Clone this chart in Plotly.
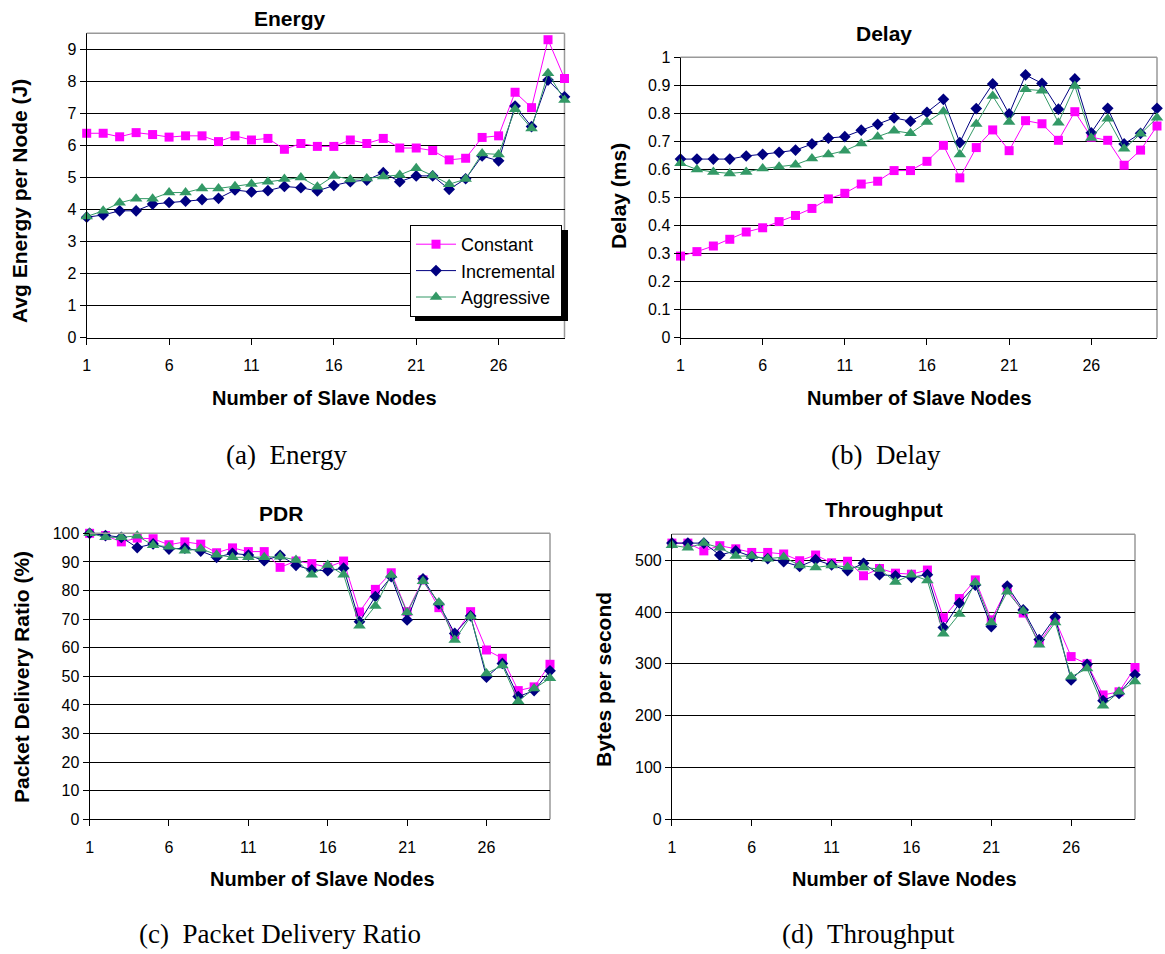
import plotly.graph_objects as go

W, H = 1165, 954

nodes = list(range(1, 31))

energy_constant = [6.38, 6.38, 6.27, 6.40, 6.34, 6.26, 6.30, 6.30, 6.12, 6.30,
                   6.17, 6.22, 5.88, 6.06, 5.97, 5.97, 6.17, 6.06, 6.22, 5.92,
                   5.92, 5.84, 5.55, 5.60, 6.25, 6.30, 7.66, 7.18, 9.30, 8.09]
energy_incremental = [3.76, 3.83, 3.96, 3.96, 4.17, 4.22, 4.26, 4.31, 4.35, 4.61,
                      4.55, 4.59, 4.72, 4.68, 4.58, 4.75, 4.87, 4.92, 5.15, 4.87,
                      5.05, 5.05, 4.63, 4.96, 5.67, 5.52, 7.23, 6.59, 8.04, 7.52]
energy_aggressive = [3.78, 3.96, 4.21, 4.34, 4.34, 4.53, 4.53, 4.66, 4.66, 4.73,
                     4.80, 4.87, 4.95, 5.00, 4.71, 5.05, 4.94, 4.97, 5.03, 5.08,
                     5.29, 5.06, 4.79, 4.95, 5.75, 5.72, 7.13, 6.53, 8.25, 7.42]

delay_constant = [0.291, 0.307, 0.327, 0.351, 0.377, 0.392, 0.414, 0.436, 0.461, 0.495,
                  0.515, 0.548, 0.558, 0.596, 0.596, 0.629, 0.686, 0.570, 0.678, 0.741,
                  0.667, 0.774, 0.763, 0.704, 0.806, 0.715, 0.704, 0.615, 0.669, 0.755]
delay_incremental = [0.637, 0.637, 0.637, 0.637, 0.648, 0.654, 0.661, 0.669, 0.691, 0.712,
                     0.717, 0.740, 0.761, 0.784, 0.772, 0.804, 0.850, 0.696, 0.817, 0.905,
                     0.798, 0.937, 0.907, 0.815, 0.923, 0.731, 0.818, 0.691, 0.729, 0.818]
delay_aggressive = [0.622, 0.600, 0.591, 0.586, 0.591, 0.603, 0.610, 0.617, 0.639, 0.653,
                    0.667, 0.693, 0.717, 0.738, 0.729, 0.769, 0.807, 0.653, 0.762, 0.862,
                    0.769, 0.886, 0.881, 0.767, 0.898, 0.712, 0.781, 0.674, 0.727, 0.784]

pdr_constant = [100, 99.2, 97.0, 98.3, 98.1, 96.0, 97.0, 96.2, 93.2, 94.9,
                93.6, 93.6, 88.1, 90.3, 89.4, 88.1, 90.3, 72.5, 80.4, 86.2,
                72.6, 83.7, 74.0, 64.5, 72.6, 59.2, 56.3, 45.0, 46.3, 54.2]
pdr_incremental = [100, 99.2, 98.6, 95.0, 96.3, 94.5, 94.8, 93.8, 91.6, 93.0,
                   92.4, 90.4, 92.3, 88.8, 87.2, 86.9, 87.8, 69.1, 77.9, 84.8,
                   69.7, 84.1, 75.3, 65.0, 71.1, 49.7, 54.5, 42.9, 45.0, 51.9]
pdr_aggressive = [100, 98.6, 98.6, 99.1, 95.8, 95.3, 93.9, 94.6, 92.5, 91.6,
                  91.6, 91.6, 91.8, 90.7, 85.5, 88.9, 85.5, 67.7, 74.6, 85.4,
                  72.3, 83.2, 75.8, 62.7, 70.9, 51.0, 53.8, 41.3, 45.7, 49.3]

thr_constant = [533, 533, 518, 528, 522, 515, 515, 512, 499, 510,
                495, 498, 470, 484, 475, 473, 481, 389, 426, 462,
                385, 446, 398, 341, 385, 314, 300, 240, 246, 293]
thr_incremental = [533, 533, 533, 510, 518, 507, 503, 497, 488, 501,
                   491, 480, 494, 472, 470, 467, 472, 370, 417, 452,
                   372, 450, 404, 347, 390, 269, 299, 229, 243, 279]
thr_aggressive = [529, 524, 533, 524, 508, 508, 503, 506, 490, 486,
                  490, 487, 486, 483, 458, 472, 461, 358, 396, 457,
                  380, 439, 402, 337, 380, 275, 291, 219, 246, 266]

series_names = ["Constant", "Incremental", "Aggressive"]
x_ticks = [1, 6, 11, 16, 21, 26]

NB = "\u00a0"
panels = [
    dict(title="Energy", ytitle="Avg Energy per Node (J)", caption=f"(a){NB}{NB}Energy",
         data=[energy_constant, energy_incremental, energy_aggressive],
         yrange=[0, 9.5], dtick=1),
    dict(title="Delay", ytitle="Delay (ms)", caption=f"(b){NB}{NB}Delay",
         data=[delay_constant, delay_incremental, delay_aggressive],
         yrange=[0, 1.0], dtick=0.1),
    dict(title="PDR", ytitle="Packet Delivery Ratio (%)", caption=f"(c){NB}{NB}Packet Delivery Ratio",
         data=[pdr_constant, pdr_incremental, pdr_aggressive],
         yrange=[0, 100], dtick=10),
    dict(title="Throughput", ytitle="Bytes per second", caption=f"(d){NB}{NB}Throughput",
         data=[thr_constant, thr_incremental, thr_aggressive],
         yrange=[0, 550], dtick=100),
]

# ---- layout geometry (pixels) ----
boxes = [  # left, right, top, bottom
    (86.7, 564.5, 33.3, 337.7),
    (680.5, 1157.0, 57.3, 337.7),
    (89.6, 550.0, 533.3, 819.3),
    (671.9, 1135.0, 534.3, 819.3),
]
title_pos = [(290, 19), (884, 34), (281, 513), (884, 509)]
ytitle_pos = [(19, 201), (618, 196), (21, 677), (603, 680)]
xtitle_pos = [(325, 398), (919, 398), (322, 879), (904, 879)]
caption_pos = [(286, 455), (886, 455), (280, 934), (868, 934)]

styles = [
    dict(color="#FF00FF", symbol="square", size=9),
    dict(color="#000080", symbol="diamond", size=9),
    dict(color="#339966", symbol="triangle-up", size=11),
]

def px(x):
    return x / W

def py(y):
    return 1 - y / H

fig = go.Figure()
annotations = []
shapes = []
tick_font = dict(family="Liberation Sans, Arial, sans-serif", size=16, color="black")
bold_font = "Liberation Sans, Arial, sans-serif"

for i, p in enumerate(panels):
    n = i + 1
    xa = "x" if n == 1 else f"x{n}"
    ya = "y" if n == 1 else f"y{n}"
    l, r, t, b = boxes[i]
    fig.layout[f"xaxis{'' if n == 1 else n}"] = dict(
        domain=[px(l), px(r)], anchor=ya, range=[1, 30],
        tickmode="array", tickvals=x_ticks, ticktext=[str(v) for v in x_ticks],
        ticks="outside", ticklen=6, tickcolor="black", tickwidth=1,
        showline=True, linecolor="black", linewidth=1,
        showgrid=False, zeroline=False, tickfont=tick_font,
        ticklabelstandoff=7, fixedrange=True, automargin=False,
    )
    fig.layout[f"yaxis{'' if n == 1 else n}"] = dict(
        domain=[py(b), py(t)], anchor=xa, range=p["yrange"],
        dtick=p["dtick"], tick0=0,
        ticks="outside", ticklen=6, tickcolor="black", tickwidth=1,
        showline=True, linecolor="black", linewidth=1,
        showgrid=True, gridcolor="black", gridwidth=1,
        zeroline=False, tickfont=tick_font, fixedrange=True, automargin=False,
    )

    # grey frame on top/right
    shapes.append(dict(type="line", xref="paper", yref="paper",
                       x0=px(l), x1=px(r), y0=py(t), y1=py(t),
                       line=dict(color="#999999", width=1.5), layer="above"))
    shapes.append(dict(type="line", xref="paper", yref="paper",
                       x0=px(r), x1=px(r), y0=py(t), y1=py(b),
                       line=dict(color="#999999", width=1.5), layer="below"))

    for s, (name, vals) in enumerate(zip(series_names, p["data"])):
        st = styles[s]
        fig.add_trace(go.Scatter(
            x=nodes, y=vals, mode="lines+markers", name=name,
            xaxis=xa, yaxis=ya, legendgroup=name, showlegend=(n == 1),
            line=dict(color=st["color"], width=1),
            marker=dict(color=st["color"], symbol=st["symbol"], size=st["size"], line=dict(width=0)),
            cliponaxis=False,
        ))

    annotations.append(dict(text=f"<b>{p['title']}</b>", x=px(title_pos[i][0]), y=py(title_pos[i][1]),
                            xref="paper", yref="paper", showarrow=False,
                            xanchor="center", yanchor="middle",
                            font=dict(family=bold_font, size=21, color="black")))
    annotations.append(dict(text=f"<b>{p['ytitle']}</b>", x=px(ytitle_pos[i][0]), y=py(ytitle_pos[i][1]),
                            xref="paper", yref="paper", showarrow=False, textangle=-90,
                            xanchor="center", yanchor="middle",
                            font=dict(family=bold_font, size=21, color="black")))
    annotations.append(dict(text="<b>Number of Slave Nodes</b>", x=px(xtitle_pos[i][0]), y=py(xtitle_pos[i][1]),
                            xref="paper", yref="paper", showarrow=False,
                            xanchor="center", yanchor="middle",
                            font=dict(family=bold_font, size=20, color="black")))
    annotations.append(dict(text=p["caption"], x=px(caption_pos[i][0]), y=py(caption_pos[i][1]),
                            xref="paper", yref="paper", showarrow=False,
                            xanchor="center", yanchor="middle",
                            font=dict(family="Liberation Serif, DejaVu Serif, serif", size=27, color="black")))

# legend shadow
shapes.append(dict(type="rect", xref="paper", yref="paper",
                   x0=px(415), x1=px(568), y0=py(321), y1=py(230),
                   fillcolor="black", line=dict(width=0), layer="above"))

fig.update_layout(
    template="none",
    width=W, height=H, margin=dict(l=0, r=0, t=0, b=0, pad=0, autoexpand=False),
    paper_bgcolor="white", plot_bgcolor="white",
    annotations=annotations, shapes=shapes,
    legend=dict(x=px(410), y=py(225), xanchor="left", yanchor="top",
                bgcolor="white", bordercolor="black", borderwidth=1,
                font=dict(family="Liberation Sans, Arial, sans-serif", size=18, color="black"),
                tracegroupgap=0, itemwidth=40),
    showlegend=True,
)

fig.write_html(
    "out.html",
    config={"displayModeBar": False},
    post_script="document.documentElement.style.margin='0';document.body.style.margin='0';"
                "document.body.style.overflow='hidden';",
)
